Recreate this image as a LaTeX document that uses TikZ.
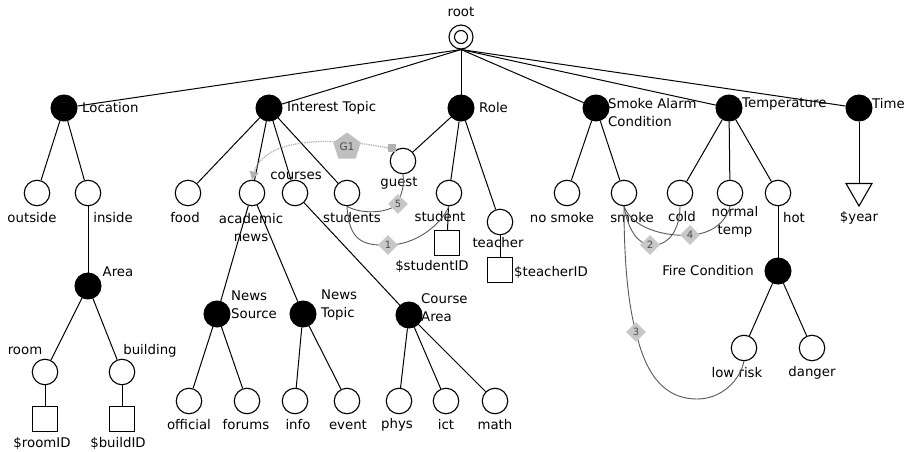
\documentclass[tikz,border=0pt]{standalone}
\usepackage{fontspec}
\setmainfont{DejaVu Sans}
\usetikzlibrary{shapes.geometric,arrows.meta}
\begin{document}
\begin{tikzpicture}[x=1pt,y=-1pt,
  every node/.style={font=\fontsize{13.3}{18}\selectfont},
  leaf/.style={circle,draw,line width=1.1pt,minimum size=25.5pt,inner sep=0pt,fill=white},
  inner/.style={circle,fill=black,draw,line width=1pt,minimum size=26pt,inner sep=0pt},
  sqnode/.style={rectangle,draw,line width=1.1pt,minimum size=24.5pt,inner sep=0pt},
  txt/.style={inner sep=0pt},
  mtxt/.style={inner sep=0pt,align=left},
  ctxt/.style={inner sep=0pt,align=center},
  edge/.style={line width=1pt},
  rel/.style={draw=black!65,line width=0.9pt},
  tag/.style={diamond,fill=black!22,text=black!70,font=\fontsize{10}{10}\selectfont,inner sep=1pt,minimum size=20pt},
  gtag/.style={regular polygon,regular polygon sides=5,fill=black!25,text=black!70,font=\fontsize{10.5}{10.5}\selectfont,inner sep=0pt,minimum size=29pt},
  gsqs/.style={rectangle,fill=black!30,minimum size=8pt,inner sep=0pt},
  tri/.style={regular polygon,regular polygon sides=3,shape border rotate=180,draw,line width=1.1pt,minimum size=30pt,inner sep=0pt},
]
\useasboundingbox (0,0) rectangle (905,452);
\fill[white] (0,0) rectangle (905,452);

% ---------- tree nodes ----------
\node[circle,draw,line width=1.1pt,minimum size=24pt,inner sep=0pt] (root) at (461,37) {};
\node[circle,draw,line width=1.1pt,minimum size=13pt,inner sep=0pt] (rootin) at (461,37) {};

\node[inner] (loc) at (64,108) {};
\node[inner] (interest) at (269,108) {};
\node[inner] (role) at (461,108) {};
\node[inner] (smoke) at (596,108) {};
\node[inner] (temp) at (729,108) {};
\node[inner] (time) at (859,108) {};

\node[leaf] (outside) at (37,193) {};
\node[leaf] (inside) at (88,193) {};
\node[leaf] (food) at (188,193) {};
\node[leaf] (acad) at (252,193) {};
\node[leaf] (courses) at (295,193) {};
\node[leaf] (students) at (347,193) {};
\node[leaf] (guest) at (403,161) {};
\node[leaf] (student) at (449,193) {};
\node[leaf] (teacher) at (500,222) {};
\node[sqnode] (studentID) at (447,243) {};
\node[sqnode] (teacherID) at (500,270) {};

\node[leaf] (nosmoke) at (567,193) {};
\node[leaf] (smokeN) at (624,193) {};
\node[leaf] (cold) at (680,193) {};
\node[leaf] (normal) at (730,193) {};
\node[leaf] (hot) at (778,193) {};
\node[tri] (year) at (859,191) {};

\node[inner] (fire) at (778,271) {};
\node[leaf] (lowrisk) at (744,348) {};
\node[leaf] (danger) at (812,348) {};

\node[inner] (area) at (88,286) {};
\node[leaf] (room) at (45,372) {};
\node[leaf] (building) at (122,372) {};
\node[sqnode] (roomID) at (45,419) {};
\node[sqnode] (buildID) at (122,419) {};

\node[inner] (newssource) at (217,314) {};
\node[inner] (newstopic) at (303,314) {};
\node[inner] (coursearea) at (409,315) {};

\node[leaf] (official) at (189,401) {};
\node[leaf] (forums) at (247,401) {};
\node[leaf] (info) at (295,401) {};
\node[leaf] (event) at (347,401) {};
\node[leaf] (phys) at (399,401) {};
\node[leaf] (ict) at (446,401) {};
\node[leaf] (math) at (495,401) {};

% ---------- tree edges ----------
\foreach \c in {loc,interest,role,smoke,temp,time}
  \draw[edge] (root.south) -- (\c);
\foreach \p/\c in {loc/outside,loc/inside,inside/area,area/room,area/building,
  room/roomID,building/buildID,
  interest/food,interest/acad,interest/courses,interest/students,
  acad/newssource,acad/newstopic,courses/coursearea,
  newssource/official,newssource/forums,newstopic/info,newstopic/event,
  coursearea/phys,coursearea/ict,coursearea/math,
  role/guest,role/student,role/teacher,student/studentID,teacher/teacherID,
  smoke/nosmoke,smoke/smokeN,temp/cold,temp/normal,temp/hot,hot/fire,
  fire/lowrisk,fire/danger,time/year}
  \draw[edge] (\p) -- (\c);

% ---------- labels ----------
\node[txt] (lroot) at (461,12) {root};
\node[txt,anchor=west] (lloc) at (82,108) {Location};
\node[txt,anchor=west] (linterest) at (287,108) {Interest Topic};
\node[txt,anchor=west] (lrole) at (479,108) {Role};
\node[mtxt,anchor=west] (lsmoke) at (608,113) {Smoke Alarm\\Condition};
\node[txt,anchor=west] (ltemp) at (742,104) {Temperature};
\node[txt,anchor=west] (ltime) at (872,104) {Time};

\node[txt] (loutside) at (32,218) {outside};
\node[txt] (linside) at (113,218) {inside};
\node[txt] (lfood) at (185,218) {food};
\node[ctxt] (lacad) at (251,228) {academic\\news};
\node[txt] (lcourses) at (296,176) {courses};
\node[txt] (lstudents) at (352,218) {students};
\node[txt] (lguest) at (399,183) {guest};
\node[txt] (lstudent) at (440,217) {student};
\node[txt] (lteacher) at (498,243) {teacher};
\node[txt] (lstudentID) at (432,266) {\$studentID};
\node[txt,anchor=west] (lteacherID) at (514,272) {\$teacherID};

\node[txt] (lnosmoke) at (562,218) {no smoke};
\node[txt] (lsmokeN) at (632,218) {smoke};
\node[txt] (lcold) at (682,217) {cold};
\node[ctxt] (lnormal) at (735,222) {normal\\temp};
\node[txt] (lhot) at (794,218) {hot};
\node[txt] (lyear) at (859,218) {\$year};
\node[txt] (lfire) at (708,271) {Fire Condition};
\node[txt] (llowrisk) at (737,373) {low risk};
\node[txt] (ldanger) at (812,373) {danger};

\node[txt] (larea) at (118,272) {Area};
\node[txt] (lroom) at (25,351) {room};
\node[txt] (lbuilding) at (150,351) {building};
\node[txt] (lroomID) at (42,443) {\$roomID};
\node[txt] (lbuildID) at (118,443) {\$buildID};

\node[mtxt,anchor=west] (lnewssource) at (231,305) {News\\Source};
\node[mtxt,anchor=west] (lnewstopic) at (321,305) {News\\Topic};
\node[mtxt,anchor=west] (lcoursearea) at (421,308) {Course\\Area};

\node[txt] (lofficial) at (189,425) {official};
\node[txt] (lforums) at (246,425) {forums};
\node[txt] (linfo) at (298,425) {info};
\node[txt] (levent) at (348,425) {event};
\node[txt] (lphys) at (397,425) {phys};
\node[txt] (lict) at (446,425) {ict};
\node[txt] (lmath) at (495,425) {math};

% ---------- relation curves ----------
\coordinate (c1) at (388,245);
\coordinate (c2) at (650,245);
\coordinate (c3) at (636,332);
\coordinate (c3b) at (697,399);
\coordinate (c4) at (690,235);
\coordinate (c5) at (398,204);

\draw[rel] (guest.south) .. controls (404,185) .. (c5)
  .. controls (385,215) and (358,213) .. (students.south);
\draw[rel] (students.south) .. controls (349,240) and (362,246) .. (c1)
  .. controls (415,245) and (440,226) .. (student.south);
\draw[rel] (smokeN.south) .. controls (628,230) and (638,244) .. (c2)
  .. controls (668,247) and (680,230) .. (cold.south);
\draw[rel] (smokeN.south) .. controls (632,228) and (665,237) .. (c4)
  .. controls (712,234) and (726,222) .. (normal.south);
\draw[rel] (smokeN.south) .. controls (624,260) and (628,305) .. (c3)
  .. controls (648,385) and (672,399) .. (c3b)
  .. controls (722,399) and (740,380) .. (lowrisk.south);

\node[tag] (t1) at (c1) {1};
\node[tag] (t2) at (c2) {2};
\node[tag] (t3) at (c3) {3};
\node[tag] (t4) at (c4) {4};
\node[tag] (t5) at (c5) {5};

% ---------- G1 group ----------
\node[gsqs] (gsq) at (392,148) {};
\draw[densely dotted,draw=black!30,line width=1.3pt,
  -{Triangle[color=black!30,length=8pt,width=9pt]}]
  (gsq.west) .. controls (340,138) and (265,135) .. (acad.north);
\node[gtag] (g1) at (347,147) {G1};
\end{tikzpicture}
\end{document}
